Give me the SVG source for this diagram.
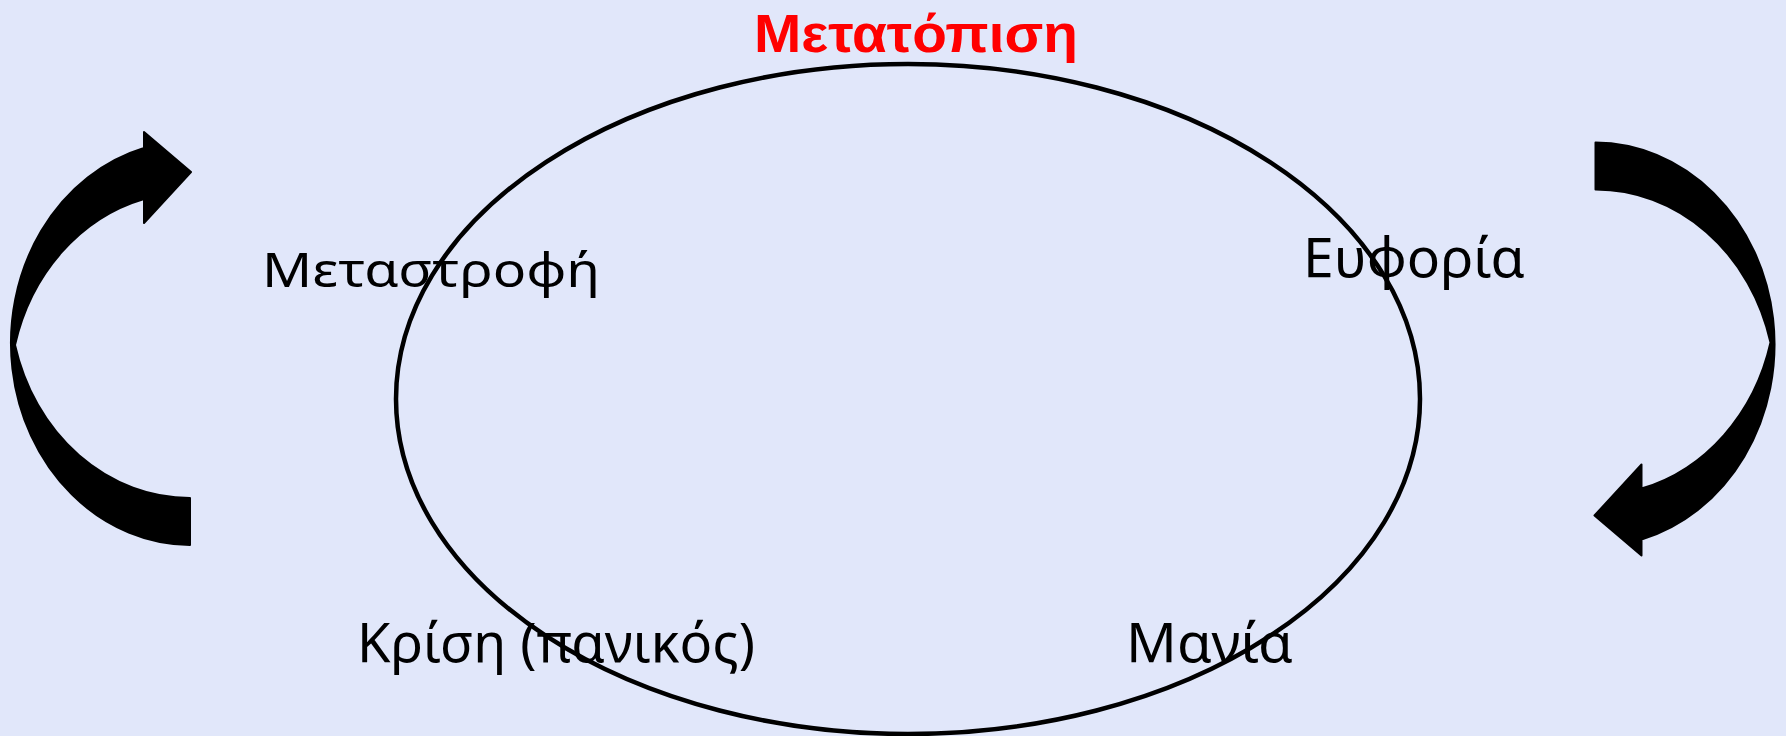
<svg xmlns="http://www.w3.org/2000/svg" width="1786" height="736" viewBox="0 0 1786 736">
<defs>
<style>
.lbl{font-family:"Noto Sans","Open Sans","Liberation Sans",sans-serif;fill:#000;}
.title{font-family:"Liberation Sans","Noto Sans",sans-serif;font-weight:bold;fill:#FF0000;}
.arrow{fill:#000;stroke:#000;stroke-width:2;stroke-linejoin:round;}
</style>
<path id="carrow" d="M190,545 A180,202 0 0,1 144,148 L144,132 L191,172 L144,223 L144,199 A180,202 0 0,0 15,345 A180,202 0 0,0 190,498 Z"/>
</defs>
<rect width="1786" height="736" fill="#E1E7FA"/>
<g id="connectors">
<use href="#carrow" class="arrow"/>
<use href="#carrow" class="arrow" transform="rotate(180 892.75 343.75)"/>
</g>
<g id="title"><text class="title" x="754" y="52" font-size="54" textLength="324" lengthAdjust="spacingAndGlyphs">Μετατόπιση</text></g>
<g id="cycle"><ellipse cx="908" cy="399" rx="512" ry="335" fill="none" stroke="#000" stroke-width="4.5"/></g>
<g id="node-metastrofi"><text class="lbl" x="262" y="287" font-size="48" textLength="338" lengthAdjust="spacingAndGlyphs">Μεταστροφή</text></g>
<g id="node-euforia"><text class="lbl" x="1303" y="277" font-size="54" textLength="222" lengthAdjust="spacingAndGlyphs">Ευφορία</text></g>
<g id="node-krisi"><text class="lbl" x="357" y="662" font-size="54" textLength="398" lengthAdjust="spacingAndGlyphs">Κρίση (πανικός)</text></g>
<g id="node-mania"><text class="lbl" x="1126" y="662" font-size="54" textLength="167" lengthAdjust="spacingAndGlyphs">Μανία</text></g>
</svg>
